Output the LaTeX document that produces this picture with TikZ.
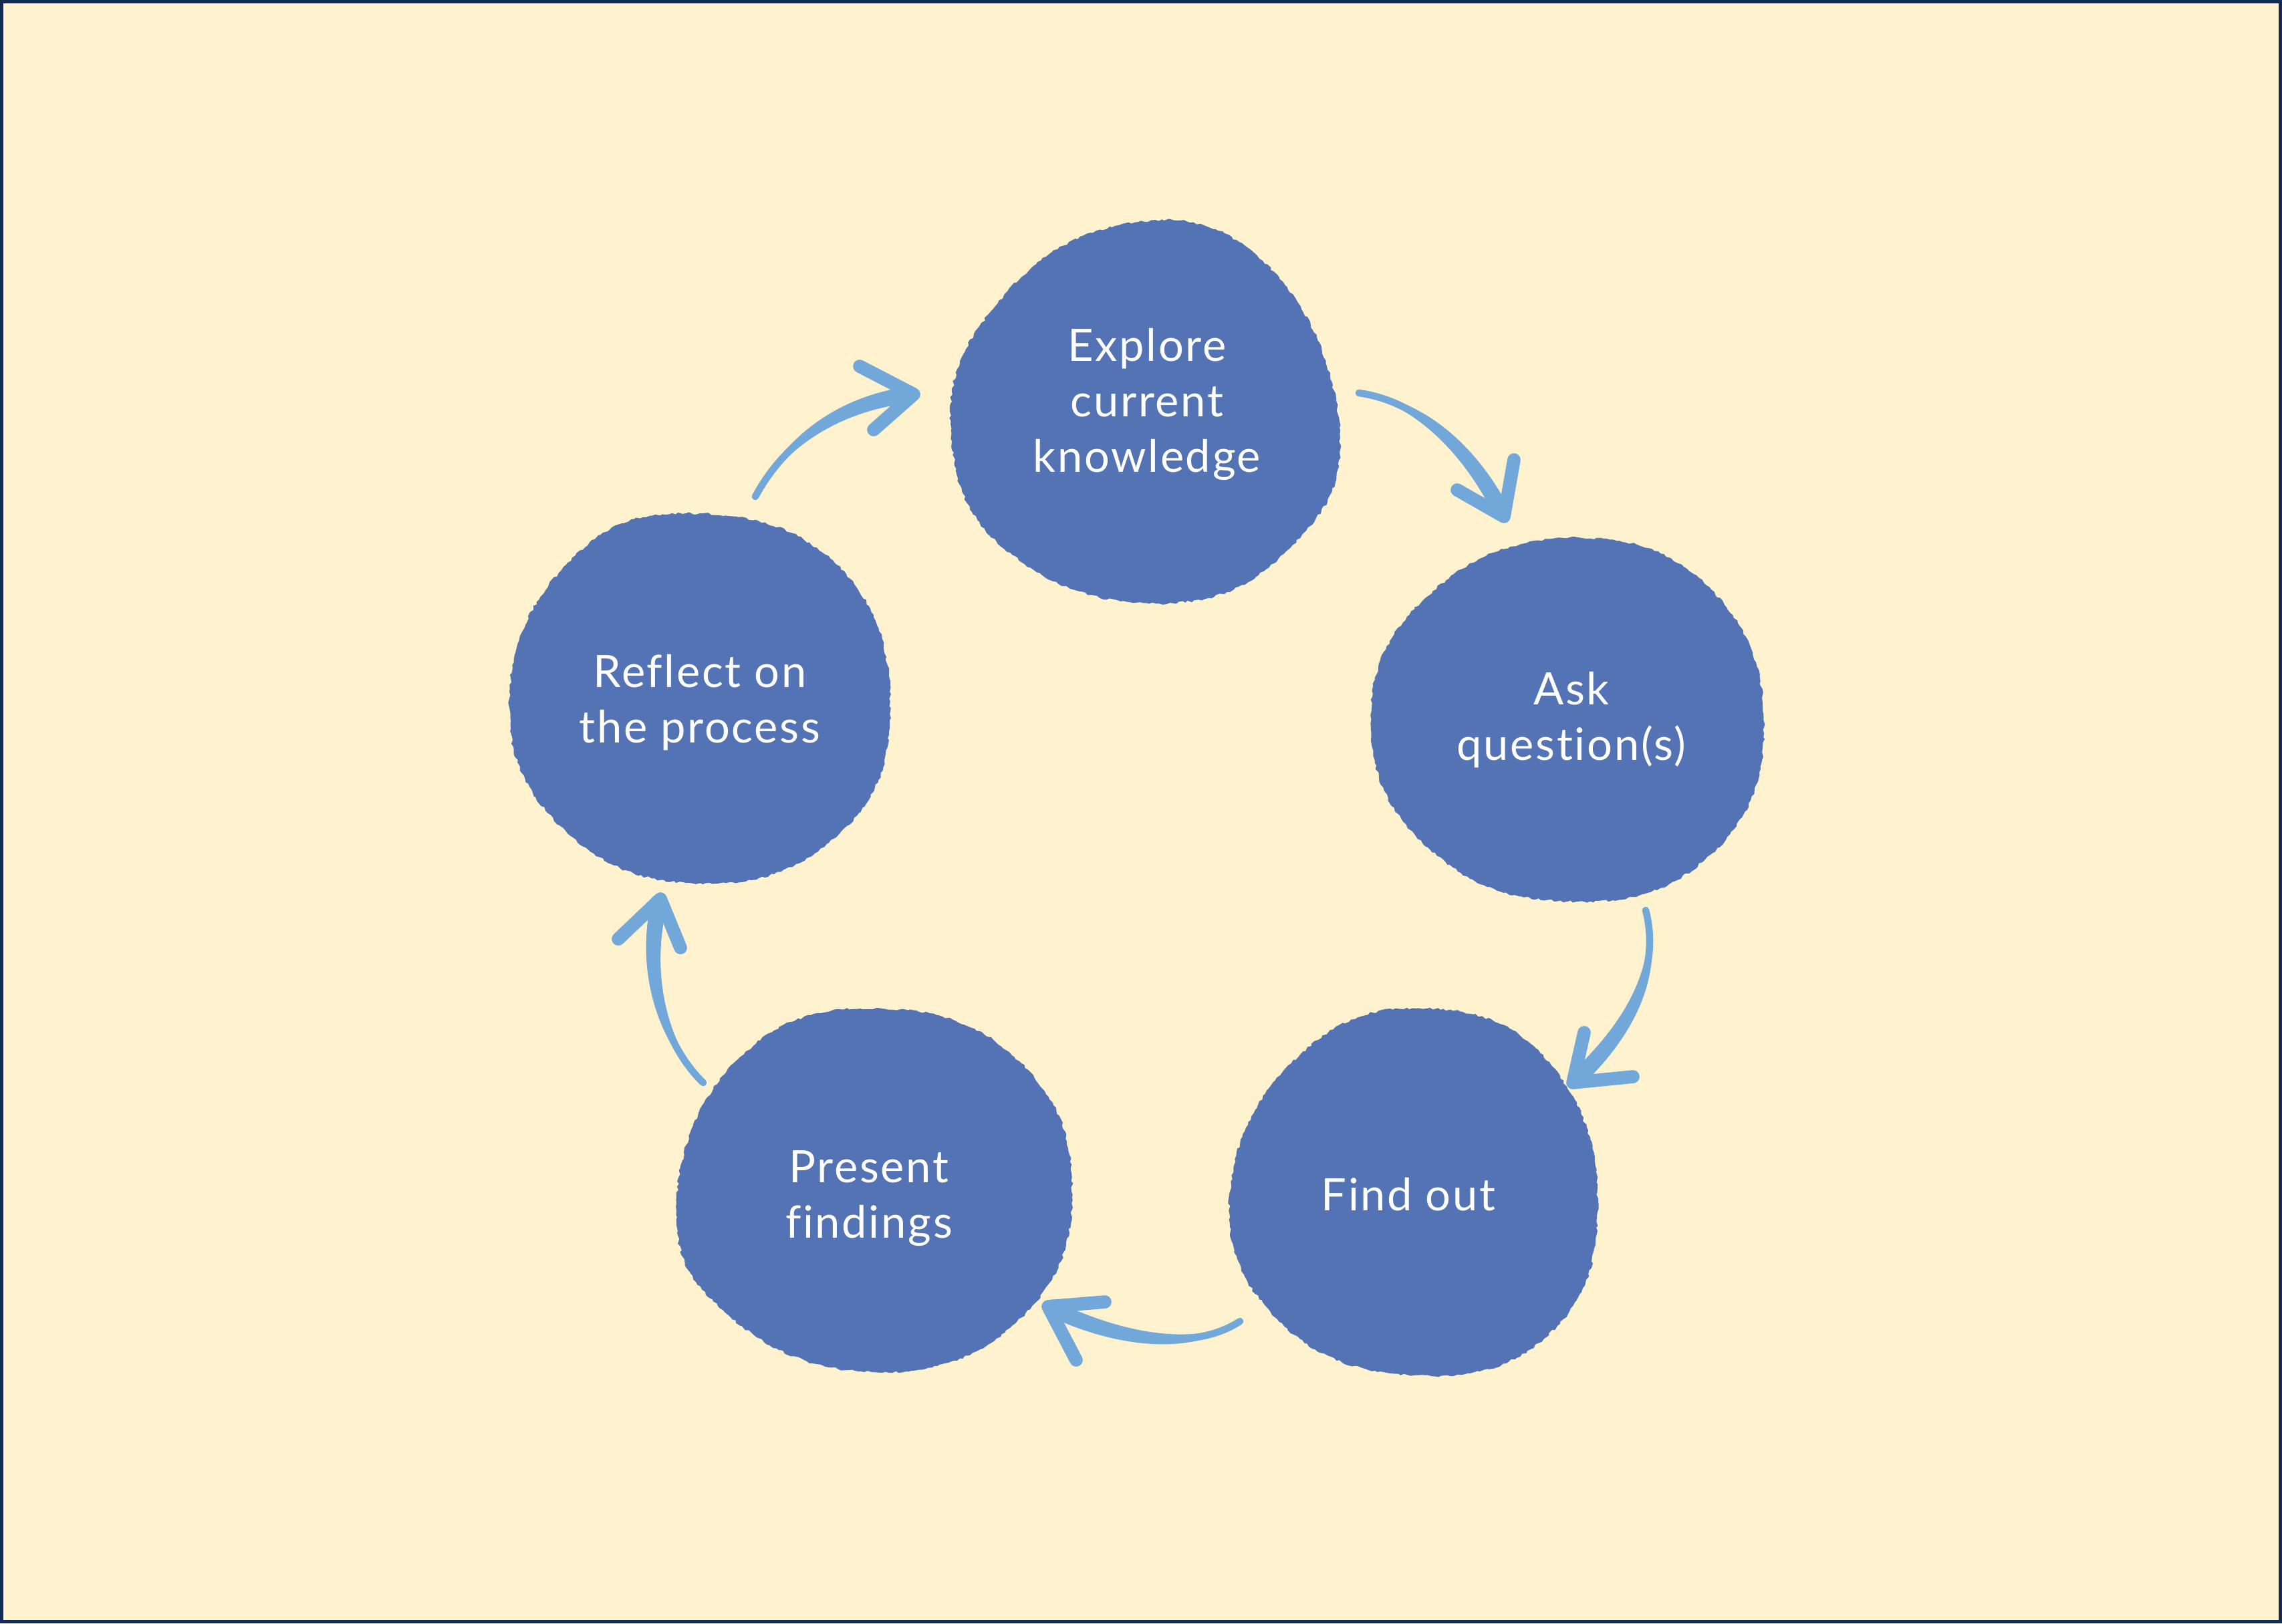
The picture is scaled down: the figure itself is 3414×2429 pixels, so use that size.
\documentclass[tikz,border=0pt]{standalone}
\usepackage{fontspec}
\setmainfont{Lato}[Ligatures={NoCommon,NoContextual}, LetterSpace=4]
\usetikzlibrary{decorations.pathmorphing,calc}
\definecolor{bgcol}{HTML}{FFF2CE}
\definecolor{framecol}{HTML}{152A52}
\definecolor{blobcol}{HTML}{5473B5}
\definecolor{arrowcol}{HTML}{72A7DA}
\tikzset{
  blobfill/.style={fill=blobcol, decorate, decoration={random steps, segment length=1.4pt, amplitude=0.5pt}},
  label/.style={text=white, align=center, font=\fontsize{19}{23.6}\selectfont, inner sep=0pt},
  thinshaft/.style={draw=arrowcol, line width=3pt, line cap=round},
  barb/.style={draw=arrowcol, line width=5.6pt, line cap=round, line join=round},
}
% tapered shaft: #1 start, #2 control 1, #3 control 2, #4 tip
\newcommand{\tapershaft}[4]{%
  \coordinate (tc1) at #2; \coordinate (tc2) at #3;
  \fill[arrowcol] (#1) .. controls ($(tc1)!2.3pt!90:(tc2)$) and ($(tc2)!3.3pt!90:(#4)$) .. ($(#4)!3.5pt!-90:(tc2)$)
    -- ($(#4)!3.5pt!90:(tc2)$) .. controls ($(tc2)!3.3pt!-90:(#4)$) and ($(tc1)!2.3pt!-90:(tc2)$) .. (#1) -- cycle;
  \draw[thinshaft] (#1) .. controls (tc1) and (tc2) .. (#4);
}
\pgfmathsetseed{7}
\begin{document}
\begin{tikzpicture}[x=0.01cm, y=-0.01cm]
\useasboundingbox (0,0) rectangle (3414,2429);
\fill[bgcol] (0,0) rectangle (3414,2429);
\draw[framecol, line width=1.45pt] (2.5,2.5) rectangle (3411.5,2426.5);

% blobs
\begin{scope}[shift={(1714,620)}]
\fill[blobfill] plot[smooth cycle, tension=0.75] coordinates {(290,20) (210,205) (20,283) (-200,210) (-290,40) (-235,-150) (-40,-283) (175,-230)};
\end{scope}
\begin{scope}[shift={(2345,1077)}]
\fill[blobfill] plot[smooth cycle, tension=0.75] coordinates {(294,20) (205,210) (0,272) (-205,195) (-294,10) (-215,-180) (0,-272) (215,-195)};
\end{scope}
\begin{scope}[shift={(2115,1783)}]
\fill[blobfill] plot[smooth cycle, tension=0.75] coordinates {(275,30) (195,220) (-10,274) (-205,190) (-275,0) (-170,-205) (20,-274) (205,-190)};
\end{scope}
\begin{scope}[shift={(1308,1781)}]
\fill[blobfill] plot[smooth cycle, tension=0.75] coordinates {(296,10) (210,200) (0,272) (-215,190) (-296,20) (-200,-200) (10,-272) (220,-190)};
\end{scope}
\begin{scope}[shift={(1047,1045)}]
\fill[blobfill] plot[smooth cycle, tension=0.75] coordinates {(285,20) (200,210) (-10,277) (-210,190) (-285,0) (-200,-200) (-20,-277) (205,-200)};
\end{scope}

% labels
\node[label] (explore) at (1716,605) {Explore\\current\\knowledge};
\node[label] (ask) at (2351,1077) {Ask\\question(s)};
\node[label] (find) at (2107,1787) {Find out};
\node[label] (present) at (1300,1793) {Present\\findings};
\node[label] (reflect) at (1047,1051) {Reflect on\\the process};

% arrow end points
\coordinate (a1s) at (2033,588); \coordinate (a1t) at (2250,773);
\coordinate (a1b1) at (2180,733); \coordinate (a1b2) at (2265,688);
\coordinate (a2s) at (2462,1362); \coordinate (a2t) at (2353,1620);
\coordinate (a2b1) at (2370,1545); \coordinate (a2b2) at (2443,1611);
\coordinate (a3s) at (1855,1977); \coordinate (a3t) at (1568,1955);
\coordinate (a3b1) at (1653,1948); \coordinate (a3b2) at (1610,2035);
\coordinate (a4s) at (1052,1620); \coordinate (a4t) at (988,1345);
\coordinate (a4b1) at (925,1405); \coordinate (a4b2) at (1018,1418);
\coordinate (a5s) at (1130,743); \coordinate (a5t) at (1367,590);
\coordinate (a5b1) at (1286,548); \coordinate (a5b2) at (1307,643);

% arrows
\tapershaft{a1s}{(2120,600)}{(2200,670)}{a1t}
\tapershaft{a2s}{(2485,1450)}{(2440,1540)}{a2t}
\tapershaft{a3s}{(1790,2020)}{(1680,2010)}{a3t}
\tapershaft{a4s}{(990,1560)}{(960,1450)}{a4t}
\tapershaft{a5s}{(1180,650)}{(1270,600)}{a5t}
\draw[barb] (a1b1) -- (a1t) -- (a1b2);
\draw[barb] (a2b1) -- (a2t) -- (a2b2);
\draw[barb] (a3b1) -- (a3t) -- (a3b2);
\draw[barb] (a4b1) -- (a4t) -- (a4b2);
\draw[barb] (a5b1) -- (a5t) -- (a5b2);
\end{tikzpicture}
\end{document}
